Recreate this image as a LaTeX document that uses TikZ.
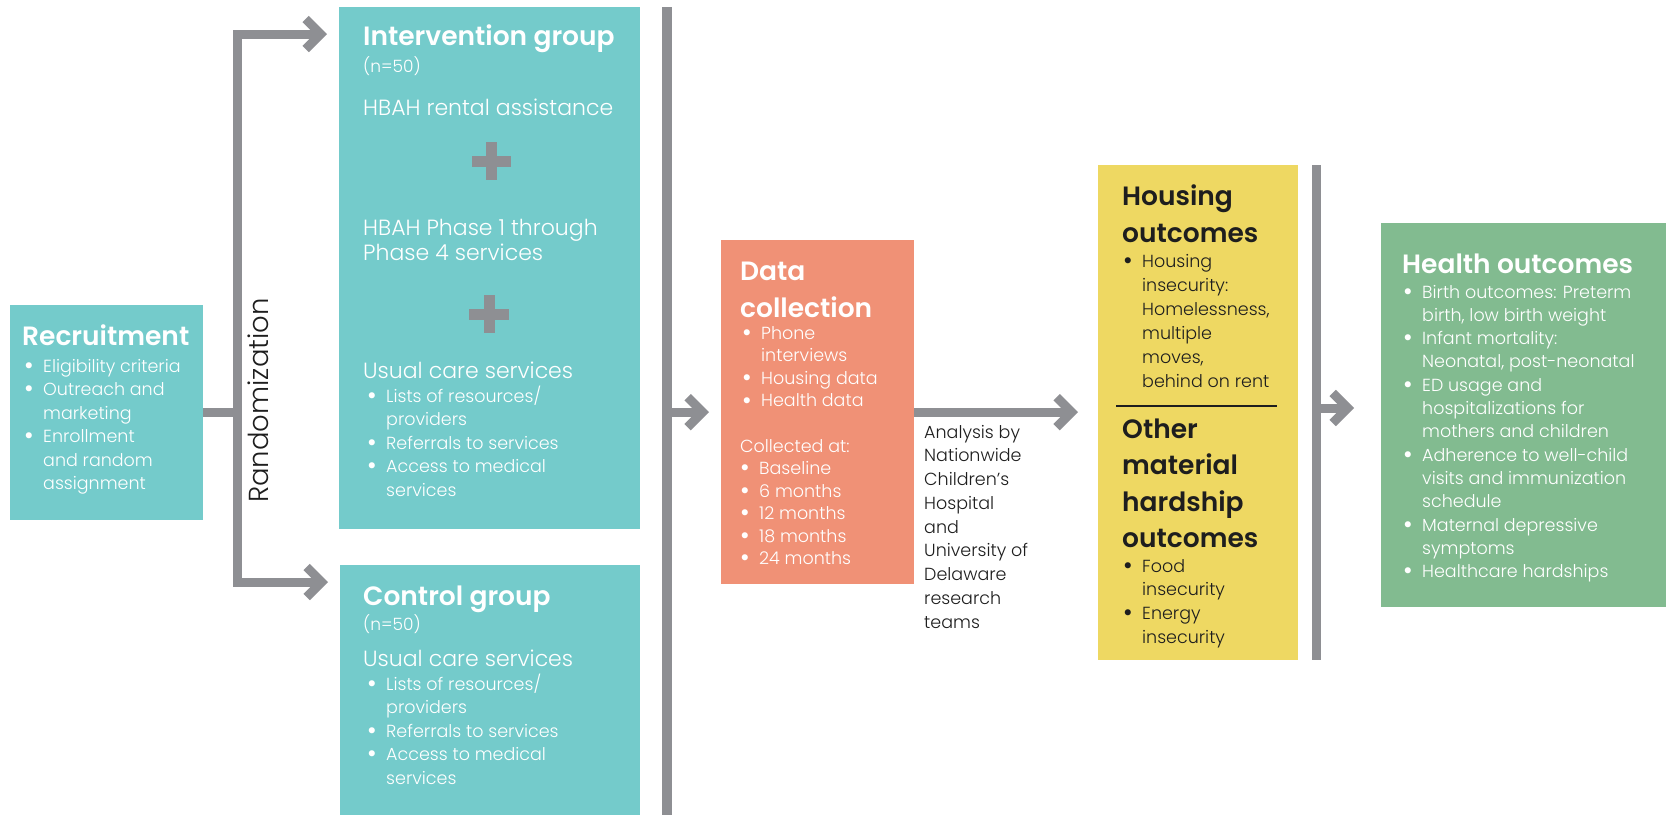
\documentclass[tikz,border=0pt]{standalone}
\usepackage{fontspec}
\setmainfont{Poppins}[UprightFont=* Light, BoldFont=* SemiBold]
\usetikzlibrary{arrows.meta}

\definecolor{boxteal}{RGB}{116,203,203}
\definecolor{boxsalmon}{RGB}{240,145,118}
\definecolor{boxyellow}{RGB}{238,216,98}
\definecolor{boxgreen}{RGB}{130,187,144}
\definecolor{conngray}{RGB}{142,143,147}
\definecolor{inkdark}{RGB}{30,30,30}

% a block of left-aligned lines whose baseline is the first line
\newcommand\linestack[1]{\vtop{\halign{##\hfil\cr#1\crcr}}}
\newcommand\bul{\makebox[19pt][l]{\raisebox{-2.2pt}{\scalebox{1.5}{\textbullet}}}}
\newcommand\bpad{\hspace*{19pt}}

\tikzset{
  panel/.style={rectangle, inner sep=0pt, anchor=north west, draw=none},
  ttl/.style={inner sep=0pt, anchor=base west, font=\fontsize{26.5}{37}\selectfont\bfseries},
  body/.style={inner sep=0pt, anchor=base west, font=\fontsize{17.5}{23.5}\selectfont},
  sub/.style={inner sep=0pt, anchor=base west, font=\fontsize{22}{25}\selectfont},
  small/.style={inner sep=0pt, anchor=base west, font=\fontsize{17}{20}\selectfont},
  conn/.style={draw=conngray, line width=9pt, line join=miter},
  chev/.style={-{Straight Barb[length=15pt,width=30pt]}},
  plus/.style={draw=conngray, line width=11pt},
}

\begin{document}
\begin{tikzpicture}[x=1pt, y=-1pt]
\useasboundingbox (0,0) rectangle (1666,815);
\fill[white] (0,0) rectangle (1666,815);

% ---------- boxes ----------
\node[panel, fill=boxteal, minimum width=193pt, minimum height=215pt] (rec) at (10,305) {};
\node[panel, fill=boxteal, minimum width=301pt, minimum height=522pt] (int) at (339,7) {};
\node[panel, fill=boxteal, minimum width=300pt, minimum height=250pt] (ctrl) at (340,565) {};
\node[panel, fill=boxsalmon, minimum width=193pt, minimum height=344pt] (data) at (721,240) {};
\node[panel, fill=boxyellow, minimum width=200pt, minimum height=495pt] (hous) at (1098,165) {};
\node[panel, fill=boxgreen, minimum width=285pt, minimum height=384pt] (hlth) at (1381,223) {};

% ---------- randomization bracket ----------
\coordinate (rtop) at (237.5,34);
\coordinate (rbot) at (237.5,582);
\draw[conn] (rec.east) -- (rec.east -| rtop);
\draw[conn, {Straight Barb[length=15pt,width=30pt]}-{Straight Barb[length=15pt,width=30pt]},
      shorten <=12pt, shorten >=12pt]
  (rtop -| int.west) -- (rtop) -- (rbot) -- (rbot -| ctrl.west);
\node[inner sep=0pt, rotate=90, anchor=base, font=\fontsize{27.5}{30}\selectfont, text=inkdark]
  (randlbl) at (268,400.5) {Randomization};

% ---------- bar before data collection ----------
\coordinate (mtop) at (667,7);
\coordinate (mbot) at (667,815);
\draw[conn, line width=10pt] (mtop) -- (mbot);
\draw[conn, chev, shorten >=12pt] (mtop |- data.west) -- (data.west);

% ---------- analysis arrow ----------
\draw[conn, chev, shorten >=20pt] (data.east) -- (data.east -| hous.west);

% ---------- bar before health outcomes ----------
\coordinate (htop) at (1316,165);
\coordinate (hbot) at (1316,660);
\coordinate (harr) at (1316,408);
\draw[conn] (htop) -- (hbot);
\draw[conn, chev, shorten >=27pt] (harr) -- (harr -| hlth.west);

% ---------- plus signs ----------
\draw[plus] (491.5,142) -- (491.5,180) (472,161) -- (511,161);
\draw[plus] (489,295) -- (489,333) (469,314) -- (509,314);

% ---------- recruitment ----------
\node[ttl, text=white] (rec-title) at (22,345) {Recruitment};
\node[body, text=white] (rec-list) at (24,372) {\linestack{%
  \bul Eligibility criteria\cr
  \bul Outreach and\cr
  \bpad marketing\cr
  \bul Enrollment\cr
  \bpad and random\cr
  \bpad assignment}};

% ---------- intervention group ----------
\node[ttl, text=white] (int-title) at (363,45) {Intervention group};
\node[small, text=white] (int-n) at (363,72) {(n=50)};
\node[sub, text=white] (int-rent) at (363,115) {HBAH rental assistance};
\node[sub, text=white] (int-phase) at (363,235) {\linestack{HBAH Phase 1 through\cr Phase 4 services}};
\node[sub, text=white] (int-usual) at (363,378) {Usual care services};
\node[body, text=white] (int-list) at (367,402) {\linestack{%
  \bul Lists of resources/\cr
  \bpad providers\cr
  \bul Referrals to services\cr
  \bul Access to medical\cr
  \bpad services}};

% ---------- control group ----------
\node[ttl, text=white] (ctrl-title) at (363,605) {Control group};
\node[small, text=white] (ctrl-n) at (363,630) {(n=50)};
\node[sub, text=white] (ctrl-usual) at (363,666) {Usual care services};
\node[body, text=white] (ctrl-list) at (367,690) {\linestack{%
  \bul Lists of resources/\cr
  \bpad providers\cr
  \bul Referrals to services\cr
  \bul Access to medical\cr
  \bpad services}};

% ---------- data collection ----------
\node[ttl, text=white] (data-title) at (740,280) {\linestack{Data\cr collection}};
\node[body, text=white, font=\fontsize{17.5}{22.6}\selectfont] (data-list) at (742,339) {\linestack{%
  \bul Phone\cr
  \bpad interviews\cr
  \bul Housing data\cr
  \bul Health data}};
\node[body, text=white, font=\fontsize{17.5}{22.5}\selectfont] (data-when) at (740,452) {\linestack{%
  Collected at:\cr
  \bul Baseline\cr
  \bul 6 months\cr
  \bul 12 months\cr
  \bul 18 months\cr
  \bul 24 months}};

% ---------- analysis note ----------
\node[body, text=inkdark, font=\fontsize{17.5}{23.75}\selectfont] (ana) at (924,438) {\linestack{%
  Analysis by\cr Nationwide\cr Children’s\cr Hospital\cr and\cr University of\cr Delaware\cr research\cr teams}};

% ---------- housing / material hardship ----------
\node[ttl, text=inkdark] (hous-title) at (1122,205) {\linestack{Housing\cr outcomes}};
\node[body, text=inkdark, font=\fontsize{17.5}{24}\selectfont] (hous-list) at (1123,267) {\linestack{%
  \bul Housing\cr
  \bpad insecurity:\cr
  \bpad Homelessness,\cr
  \bpad multiple\cr
  \bpad moves,\cr
  \bpad behind on rent}};
\coordinate (divl) at (1116,406);
\coordinate (divr) at (1277,406);
\draw[draw=inkdark, line width=1.5pt] (divl) -- (divr);
\node[ttl, text=inkdark, font=\fontsize{26.5}{36.5}\selectfont\bfseries] (mat-title) at (1122,438) {\linestack{Other\cr material\cr hardship\cr outcomes}};
\node[body, text=inkdark, font=\fontsize{17.5}{23.7}\selectfont] (mat-list) at (1123,572) {\linestack{%
  \bul Food\cr
  \bpad insecurity\cr
  \bul Energy\cr
  \bpad insecurity}};

% ---------- health outcomes ----------
\node[ttl, text=white] (hlth-title) at (1402,273) {Health outcomes};
\node[body, text=white, font=\fontsize{17.5}{23.3}\selectfont] (hlth-list) at (1403,298) {\linestack{%
  \bul Birth outcomes: Preterm\cr
  \bpad birth, low birth weight\cr
  \bul Infant mortality:\cr
  \bpad Neonatal, post-neonatal\cr
  \bul ED usage and\cr
  \bpad hospitalizations for\cr
  \bpad mothers and children\cr
  \bul Adherence to well-child\cr
  \bpad visits and immunization\cr
  \bpad schedule\cr
  \bul Maternal depressive\cr
  \bpad symptoms\cr
  \bul Healthcare hardships}};
\end{tikzpicture}
\end{document}
